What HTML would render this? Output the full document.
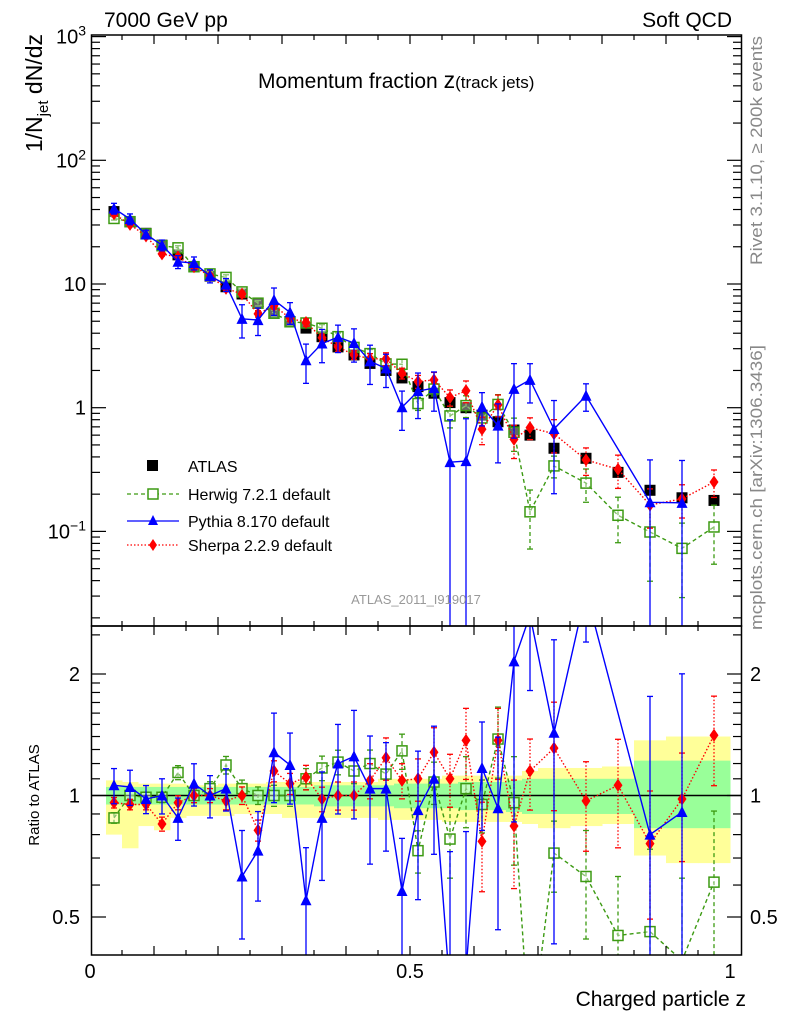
<!DOCTYPE html>
<html><head><meta charset="utf-8"><style>
html,body{margin:0;padding:0;background:#fff;width:786px;height:1024px;overflow:hidden;}
svg{display:block;font-family:"Liberation Sans",sans-serif;}
</style></head><body>
<svg id="chart" width="786" height="1024" viewBox="0 0 786 1024" xmlns="http://www.w3.org/2000/svg">
<defs>
<clipPath id="clipTop"><rect x="92" y="35" width="650" height="591"/></clipPath>
<clipPath id="clipBot"><rect x="92" y="626" width="650" height="329"/></clipPath>
</defs>
<g id="bands" clip-path="url(#clipBot)"></g>
<g id="gTop" clip-path="url(#clipTop)"></g>
<g id="gBot" clip-path="url(#clipBot)"></g>
<g id="axes"></g>
<text x="104" y="27" font-size="21">7000 GeV pp</text>
<text x="732" y="27" font-size="21" text-anchor="end">Soft QCD</text>
<text x="258" y="88" font-size="21">Momentum fraction <tspan font-size="23">z</tspan><tspan font-size="17">(track jets)</tspan></text>
<text transform="translate(42,34) rotate(-90)" font-size="23" text-anchor="end">1/N<tspan font-size="15" dy="6">jet</tspan><tspan dy="-6"> dN/dz</tspan></text>
<text transform="translate(39,795) rotate(-90)" font-size="15" text-anchor="middle">Ratio to ATLAS</text>
<text x="746" y="1006" font-size="21" text-anchor="end">Charged particle z</text>
<text transform="translate(762,265) rotate(-90)" font-size="17" fill="#888" textLength="229" lengthAdjust="spacingAndGlyphs">Rivet 3.1.10, ≥ 200k events</text>
<text transform="translate(762,630) rotate(-90)" font-size="17" fill="#888" textLength="285" lengthAdjust="spacingAndGlyphs">mcplots.cern.ch [arXiv:1306.3436]</text>
<text x="416" y="604" font-size="13" fill="#999" text-anchor="middle">ATLAS_2011_I919017</text>
<g>
 <rect x="147" y="460" width="11" height="11" fill="#000"/>
 <text x="188" y="472" font-size="16">ATLAS</text>
 <line x1="127" y1="494" x2="179" y2="494" stroke="#3c9a12" stroke-dasharray="4,3" stroke-width="1.3"/>
 <rect x="148" y="489" width="10" height="10" fill="#fff" stroke="#3c9a12" stroke-width="1.5"/>
 <text x="188" y="500" font-size="16">Herwig 7.2.1 default</text>
 <line x1="127" y1="521" x2="179" y2="521" stroke="#00f" stroke-width="1.3"/>
 <polygon points="153,515 158,525 148,525" fill="#00f"/>
 <text x="188" y="527" font-size="16">Pythia 8.170 default</text>
 <line x1="127" y1="545" x2="179" y2="545" stroke="#f00" stroke-dasharray="1.5,2" stroke-width="1.3"/>
 <polygon points="153,539 157,545 153,551 149,545" fill="#f00"/>
 <text x="188" y="551" font-size="16">Sherpa 2.2.9 default</text>
</g>
</svg>
<script>
const zCenters=[0.0375,0.0625,0.0875,0.1125,0.1375,0.1625,0.1875,0.2125,0.2375,0.2625,0.2875,0.3125,0.3375,0.3625,0.3875,0.4125,0.4375,0.4625,0.4875,0.5125,0.5375,0.5625,0.5875,0.6125,0.6375,0.6625,0.6875,0.725,0.775,0.825,0.875,0.925,0.975];
const atlasValues=[38.5,31.9,25.7,20.6,17.2,13.8,11.6,9.5,8.3,7.0,5.8,4.95,4.4,3.75,3.1,2.67,2.28,2.0,1.74,1.48,1.31,1.1,1.0,0.87,0.77,0.66,0.6,0.47,0.39,0.30,0.215,0.187,0.178];
const statUp=[1.05,1.05,1.05,1.05,1.05,1.05,1.05,1.05,1.05,1.05,1.05,1.05,1.05,1.06,1.06,1.06,1.06,1.06,1.07,1.07,1.07,1.07,1.08,1.08,1.08,1.09,1.1,1.1,1.1,1.1,1.22,1.22,1.22];
const statDn=[0.95,0.95,0.95,0.95,0.95,0.95,0.95,0.95,0.95,0.95,0.95,0.95,0.95,0.94,0.94,0.94,0.94,0.94,0.93,0.93,0.93,0.93,0.92,0.92,0.92,0.91,0.9,0.9,0.9,0.9,0.83,0.83,0.83];
const totUp=[1.09,1.08,1.07,1.07,1.07,1.06,1.06,1.07,1.07,1.07,1.08,1.08,1.08,1.08,1.08,1.08,1.08,1.1,1.1,1.1,1.1,1.12,1.12,1.12,1.12,1.12,1.15,1.17,1.17,1.18,1.37,1.4,1.4];
const totDn=[0.8,0.74,0.84,0.82,0.88,0.89,0.89,0.89,0.9,0.9,0.9,0.88,0.88,0.88,0.88,0.88,0.88,0.87,0.87,0.87,0.87,0.86,0.86,0.86,0.86,0.86,0.85,0.83,0.84,0.85,0.71,0.68,0.68];
const herwigRatio=[0.88,1.0,0.99,0.99,1.14,1.0,1.04,1.19,1.04,1.0,1.0,1.0,1.1,1.17,1.21,1.15,1.2,1.13,1.29,0.73,1.08,0.78,1.04,0.95,1.38,0.96,0.24,0.72,0.63,0.45,0.46,0.39,0.61];
const herwigErr=[0.03,0.03,0.03,0.03,0.04,0.04,0.04,0.05,0.05,0.05,0.06,0.06,0.06,0.07,0.07,0.07,0.08,0.08,0.1,0.12,0.12,0.2,0.2,0.15,0.2,0.3,0.5,0.2,0.3,0.4,0.6,0.6,0.5];
const pythiaRatio=[1.06,1.05,0.98,1.0,0.88,1.07,1.0,1.04,0.63,0.73,1.28,1.19,0.55,0.88,1.2,1.25,1.04,1.04,0.58,0.92,1.1,0.33,0.37,1.17,0.93,2.15,2.8,1.43,3.2,null,0.8,0.91,null];
const pythiaErr=[0.1,0.1,0.08,0.1,0.12,0.12,0.12,0.12,0.3,0.25,0.25,0.2,0.35,0.3,0.25,0.3,0.35,0.3,0.35,0.4,0.35,1.2,1.2,0.3,0.5,0.6,0.35,0.7,0.25,0,1.2,1.2,0];
const sherpaRatio=[0.96,0.95,0.95,0.85,0.96,1.0,1.0,0.97,1.0,0.82,1.15,1.07,1.11,0.98,1.0,1.0,1.09,1.24,1.09,1.1,1.28,1.1,1.37,0.77,1.37,0.84,1.15,1.31,0.97,1.06,0.76,0.98,1.41];
const sherpaErr=[0.03,0.03,0.03,0.04,0.04,0.04,0.04,0.05,0.05,0.06,0.06,0.06,0.07,0.07,0.08,0.08,0.1,0.12,0.1,0.12,0.15,0.15,0.2,0.25,0.2,0.3,0.2,0.3,0.25,0.3,0.35,0.3,0.25];
const xTickLabels=["0","0.5","1"];
const xTickValues=[0,0.5,1];
const yTickExp=[3,2,1,0,-1];
const ratioTicks=[2,1,0.5];

const NS="http://www.w3.org/2000/svg";
const X0=90, XS=640;
const xS=z=>X0+z*XS;
const yTop=v=>407.7-123.7*Math.log10(v);
const yRat=r=>795.5-121.5*Math.log2(r);
const clampTop=y=>Math.min(Math.max(y,35),626);
const clampBot=y=>Math.min(Math.max(y,626),955);
function el(tag,attrs,parent){const e=document.createElementNS(NS,tag);for(const k in attrs)e.setAttribute(k,attrs[k]);parent.appendChild(e);return e;}
const gTop=document.getElementById('gTop'),gBot=document.getElementById('gBot'),bands=document.getElementById('bands'),axes=document.getElementById('axes');

function binEdges(i){const c=zCenters[i];const w=i<27?0.0125:0.025;return [c-w,c+w];}
for(let i=0;i<zCenters.length;i++){
  const [a,b]=binEdges(i);
  const y1=clampBot(yRat(totUp[i])), y2=clampBot(yRat(totDn[i]));
  const r1=el('rect',{x:xS(a),y:y1,width:xS(b)-xS(a)+0.5,height:y2-y1,fill:'#ffff99'},bands);
  
  
  const r2=el('rect',{x:xS(a),y:yRat(statUp[i]),width:xS(b)-xS(a)+0.5,height:yRat(statDn[i])-yRat(statUp[i]),fill:'#99ff99'},bands);
  
  
}
const unity=el('line',{x1:92,x2:742,y1:yRat(1),y2:yRat(1),stroke:'#000','stroke-width':1.5},bands);



function marker(type,cx,cy,color,parent,name){
  let m;
  if(type==='sq') m=el('rect',{x:cx-5,y:cy-5,width:10,height:10,fill:'#fff','fill-opacity':0.4,stroke:color,'stroke-width':1.5},parent);
  else if(type==='tri') m=el('polygon',{points:`${cx},${cy-6} ${cx+5.5},${cy+5} ${cx-5.5},${cy+5}`,fill:color},parent);
  else if(type==='dia') m=el('polygon',{points:`${cx},${cy-6.5} ${cx+4.5},${cy} ${cx},${cy+6.5} ${cx-4.5},${cy}`,fill:color},parent);
  else m=el('rect',{x:cx-5.5,y:cy-5.5,width:11,height:11,fill:'#000'},parent);
  
  
}
function drawSeries(ratios,errs,color,dash,type,name){
  for(const [g,isTop] of [[gTop,true],[gBot,false]]){
    let pts=[];
    const f=isTop?yTop:yRat;
    const cl=isTop?clampTop:clampBot;
    for(let i=0;i<zCenters.length;i++){
      const r=ratios[i];
      if(r===null){continue;}
      const v=isTop?atlasValues[i]*r:r;
      pts.push([xS(zCenters[i]),f(v)]);
      const e=errs[i];
      const hiY=cl(f(v*(1+e)));
      const loY=e>=0.99?(isTop?626:955):cl(f(v*(1-e)));
      const eb=el('line',{x1:xS(zCenters[i]),x2:xS(zCenters[i]),y1:hiY,y2:loY,stroke:color,'stroke-width':1.3,'stroke-dasharray':dash},g);
      
      
      for(const yy of [hiY,loY]){
        if(yy<=35||yy>=955||yy===626) continue;
        const cap=el('line',{x1:xS(zCenters[i])-3,x2:xS(zCenters[i])+3,y1:yy,y2:yy,stroke:color,'stroke-width':1.3},g);
        
        
      }
    }
    const pl=el('polyline',{points:pts.map(p=>p.join(',')).join(' '),fill:'none',stroke:color,'stroke-width':1.4,'stroke-dasharray':dash},g);
    
    
    for(const p of pts){ if(p[1]<20||p[1]>970) continue; marker(type,p[0],p[1],color,g,name+'-point'); }
  }
}
for(let i=0;i<zCenters.length;i++){
  marker('data',xS(zCenters[i]),yTop(atlasValues[i]),'#000',gTop,'atlas-point');
}
drawSeries(herwigRatio,herwigErr,'#3c9a12','4,3','sq','herwig');
drawSeries(sherpaRatio,sherpaErr,'#ff0000','1.5,2','dia','sherpa');
drawSeries(pythiaRatio,pythiaErr,'#0000ff','','tri','pythia');

for(const [y1,y2,n] of [[35,626,'main-frame'],[626,955,'ratio-frame']]){
  const f=el('rect',{x:91.5,y:y1,width:650,height:y2-y1,fill:'none',stroke:'#000','stroke-width':1.5},axes);
  
  
}
for(let k=1;k<20;k++){
  const z=k*0.05, x=xS(z), len=(k%2===0)?9:5;
  for(const [yb,dir] of [[35,1],[626,-1],[626,1],[955,-1]]){
    const t=el('line',{x1:x,x2:x,y1:yb,y2:yb+dir*len,stroke:'#000','stroke-width':1.2},axes);
    
    
  }
}
xTickValues.forEach((v,i)=>{
  const t=el('text',{x:xS(v),y:978,'font-size':20,'text-anchor':'middle'},axes);
  t.textContent=xTickLabels[i];
  
  
});
for(let d=-2;d<=3;d++){
  for(let m=1;m<10;m++){
    const v=m*Math.pow(10,d), y=yTop(v);
    if(y<35||y>626) continue;
    const len=m===1?14:8;
    for(const [xb,dir] of [[92,1],[741,-1]]){
      const t=el('line',{x1:xb,x2:xb+dir*len,y1:y,y2:y,stroke:'#000','stroke-width':1.2},axes);
      
      
    }
  }
}
yTickExp.forEach(e=>{
  const t=el('text',{x:86,y:yTop(Math.pow(10,e))+7,'font-size':20,'text-anchor':'end'},axes);
  
  
  if(e===1) t.textContent='10';
  else if(e===0) t.textContent='1';
  else { t.textContent='10'; const s=el('tspan',{dy:-8,'font-size':14},t); s.textContent=(e<0?'\u2212':'')+Math.abs(e); }
});
for(const r of [0.4,0.5,0.6,0.7,0.8,0.9,1,1.1,1.2,1.3,1.4,1.5,1.6,1.7,1.8,1.9,2,2.5]){
  const y=yRat(r); if(y<626||y>955) continue;
  const len=(r===0.5||r===1||r===2)?14:8;
  for(const [xb,dir] of [[92,1],[741,-1]]){
    const t=el('line',{x1:xb,x2:xb+dir*len,y1:y,y2:y,stroke:'#000','stroke-width':1.2},axes);
    
    
  }
}
ratioTicks.forEach(r=>{
  for(const [x,a] of [[80,'end'],[750,'start']]){
    const t=el('text',{x:x,y:yRat(r)+7,'font-size':20,'text-anchor':a},axes);
    t.textContent=String(r);
    
    
  }
});
</script>
</body></html>
